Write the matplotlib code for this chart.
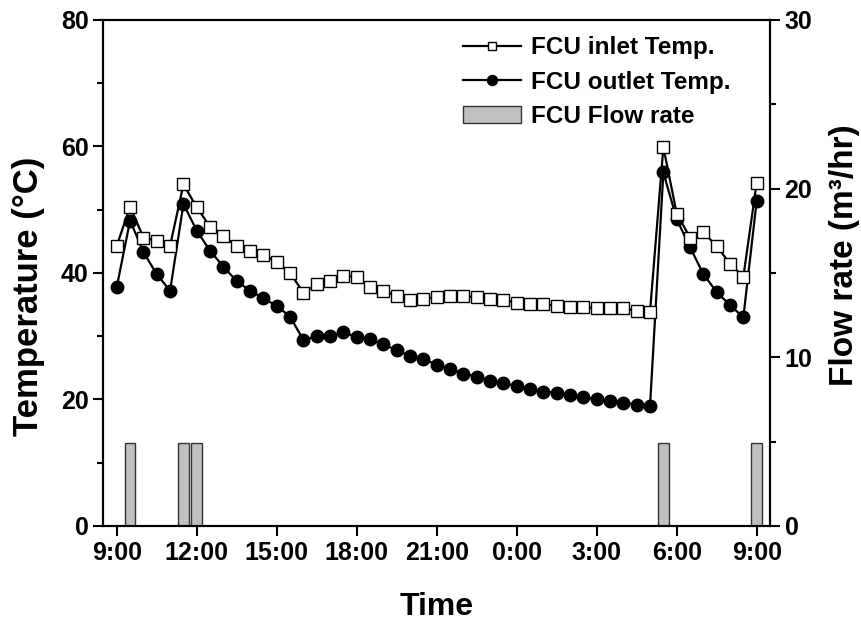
import matplotlib
matplotlib.use('Agg')
import matplotlib.pyplot as plt
from matplotlib.ticker import MultipleLocator

plt.rcParams['font.family'] = ['Liberation Sans', 'DejaVu Sans']
plt.rcParams['font.weight'] = 'bold'

# hours since 9:00, one reading every half hour
hours = [i * 0.5 for i in range(49)]

inlet_temp = [44.3, 50.5, 45.6, 45.1, 44.3, 54.0, 50.4, 47.3, 45.8, 44.3,
              43.5, 42.8, 41.8, 40.0, 36.9, 38.2, 38.7, 39.6, 39.3, 37.8,
              37.2, 36.3, 35.8, 35.9, 36.2, 36.4, 36.3, 36.2, 35.9, 35.7,
              35.3, 35.1, 35.1, 34.8, 34.7, 34.6, 34.5, 34.5, 34.4, 34.0,
              33.9, 59.9, 49.4, 45.6, 46.5, 44.2, 41.5, 39.4, 54.3]

outlet_temp = [37.8, 48.3, 43.3, 39.8, 37.2, 50.9, 46.7, 43.5, 41.0, 38.7,
               37.2, 36.0, 34.8, 33.1, 29.4, 30.0, 30.0, 30.6, 29.9, 29.5,
               28.7, 27.8, 26.9, 26.4, 25.5, 24.8, 24.1, 23.6, 23.0, 22.6,
               22.1, 21.6, 21.2, 21.1, 20.7, 20.4, 20.0, 19.8, 19.5, 19.2,
               19.0, 55.9, 48.5, 44.1, 39.8, 37.0, 34.9, 33.0, 51.4]

flow_hours = [0.5, 2.5, 3.0, 20.5, 24.0]
flow_rate = [4.9, 4.9, 4.9, 4.9, 4.9]

tick_hours = [0, 3, 6, 9, 12, 15, 18, 21, 24]
tick_labels = ['9:00', '12:00', '15:00', '18:00', '21:00', '0:00', '3:00', '6:00', '9:00']

fig = plt.figure(figsize=(8.62, 6.23), dpi=100)
ax = fig.add_axes([0.12, 0.1557, 0.7733, 0.8122])
ax2 = ax.twinx()

bars = ax2.bar(flow_hours, flow_rate, width=0.4, color='#c0c0c0',
               edgecolor='#333333', linewidth=1.0, label='FCU Flow rate', zorder=1)

l2, = ax.plot(hours, outlet_temp, '-o', color='black', lw=1.6, ms=9,
              mfc='black', mec='black', label='FCU outlet Temp.', zorder=3)
l1, = ax.plot(hours, inlet_temp, '-s', color='black', lw=1.6, ms=8,
              mfc='white', mec='black', mew=1.0, label='FCU inlet Temp.', zorder=4)

# temperature axis on top of the bar axis
ax.set_zorder(ax2.get_zorder() + 1)
ax.patch.set_visible(False)

ax.set_xlim(-0.5, 24.5)
ax.set_ylim(0, 80)
ax2.set_ylim(0, 30)

ax.set_xticks(tick_hours)
ax.set_xticklabels(tick_labels)
ax.yaxis.set_major_locator(MultipleLocator(20))
ax.yaxis.set_minor_locator(MultipleLocator(10))
ax2.yaxis.set_major_locator(MultipleLocator(10))
ax2.yaxis.set_minor_locator(MultipleLocator(5))

for a in (ax, ax2):
	for s in a.spines.values():
		s.set_linewidth(1.5)
	a.tick_params(which='major', direction='out', length=7, width=1.5, labelsize=18)
	a.tick_params(which='minor', direction='out', length=4, width=1.5)
ax.tick_params(axis='x', pad=4)

ax.set_xlabel('Time', fontsize=23, fontweight='bold')
ax.set_ylabel('Temperature (°C)', fontsize=25, fontweight='bold')
ax2.set_ylabel('Flow rate (m³/hr)', fontsize=24, fontweight='bold')
ax.xaxis.set_label_coords(0.5, -0.13)
ax.yaxis.set_label_coords(-0.088, 0.453)
ax2.yaxis.set_label_coords(1.088, 0.535)

leg = ax.legend([l1, l2, bars], ['FCU inlet Temp.', 'FCU outlet Temp.', 'FCU Flow rate'],
                loc='upper left', bbox_to_anchor=(0.537, 0.942), bbox_transform=fig.transFigure,
                frameon=False, fontsize=17.5, handlelength=2.4, handletextpad=0.4,
                labelspacing=0.47, borderpad=0, borderaxespad=0, markerscale=0.8)

plt.savefig('out.png', dpi=100)
plt.close()
